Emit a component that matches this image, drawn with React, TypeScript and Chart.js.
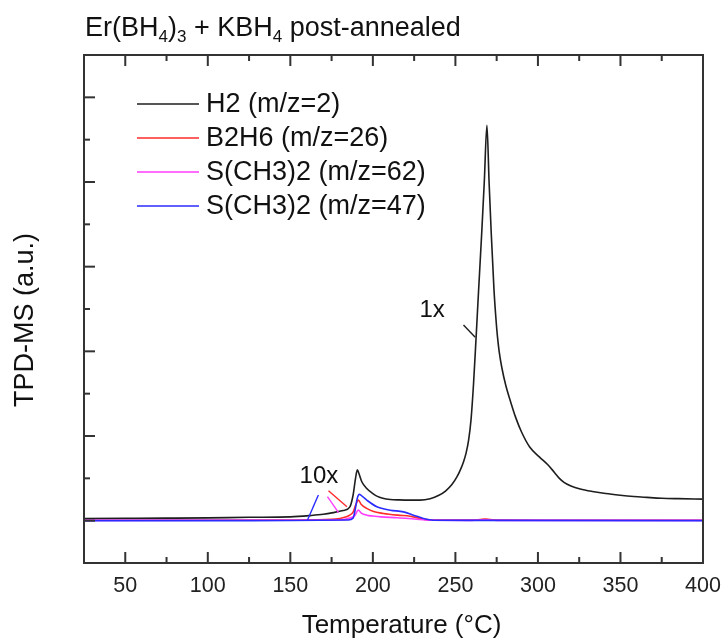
import React, { useEffect, useRef } from "react";
import { Chart, registerables } from "chart.js";

Chart.register(...registerables);

// ---------- data ----------
const xTickLabels = [50, 100, 150, 200, 250, 300, 350, 400];
const xMinorTicks = [75, 125, 175, 225, 275, 325, 375];
const yMajorTicks = [0, 1, 2, 3, 4, 5];
const yMinorTicks = [0.5, 1.5, 2.5, 3.5, 4.5];

const seriesNames = ["H2 (m/z=2)", "B2H6 (m/z=26)", "S(CH3)2 (m/z=62)", "S(CH3)2 (m/z=47)"];
const seriesColors = ["#1e1e1e", "#ff2b2b", "#ff3cff", "#2b2bff"];

const h2Temps = [25, 50, 75, 100, 125, 150, 162, 170, 176, 182, 186, 188, 189.5, 190.6, 191.5, 193.3, 196.3, 200, 202.4, 206, 210.5, 216, 222.6, 228.6, 234.7, 240, 244, 248, 251, 253, 255, 256.5, 258, 259.5, 261, 262.5, 264, 266, 267.5, 269.1, 270.4, 271.7, 273.4, 274.5, 275.5, 276.5, 278.2, 280.5, 283.2, 286.5, 290, 295, 301, 306, 310, 313, 316, 320, 325.6, 333, 341, 349.8, 358, 366, 375, 385, 400];
const h2Values = [0.026, 0.028, 0.03, 0.033, 0.04, 0.045, 0.06, 0.075, 0.095, 0.12, 0.16, 0.3, 0.5, 0.6, 0.56, 0.46, 0.38, 0.32, 0.29, 0.265, 0.25, 0.245, 0.243, 0.243, 0.26, 0.3, 0.35, 0.43, 0.52, 0.6, 0.7, 0.8, 0.95, 1.2, 1.62, 2.15, 2.7, 3.42, 4.0, 4.67, 4.0, 3.4, 2.72, 2.4, 2.17, 2.0, 1.8, 1.6, 1.42, 1.22, 1.05, 0.87, 0.75, 0.66, 0.57, 0.5, 0.45, 0.41, 0.375, 0.345, 0.32, 0.3, 0.285, 0.275, 0.265, 0.26, 0.255];

const b2h6Temps = [25, 100, 150, 175, 180, 184, 186, 188, 189.5, 191.2, 193, 196.3, 200, 206.4, 215, 222.6, 228, 232.7, 240, 260, 265, 268, 271, 276, 300, 400];
const b2h6Values = [0.005, 0.005, 0.008, 0.015, 0.026, 0.045, 0.065, 0.1, 0.18, 0.243, 0.19, 0.145, 0.11, 0.085, 0.065, 0.053, 0.03, 0.012, 0.006, 0.006, 0.014, 0.02, 0.014, 0.006, 0.005, 0.005];

const s62Temps = [25, 150, 180, 186, 189, 191.2, 193, 196.3, 200, 205, 215, 225, 235, 260, 268, 275, 400];
const s62Values = [0.003, 0.005, 0.01, 0.03, 0.06, 0.124, 0.09, 0.065, 0.055, 0.045, 0.035, 0.02, 0.005, 0.004, 0.01, 0.004, 0.003];

const s47Temps = [25, 100, 150, 185, 188, 189.2, 190.5, 191.8, 194, 196.3, 202.4, 210.5, 218.5, 224.6, 230.6, 236.7, 260, 400];
const s47Values = [0.0, 0.0, 0.002, 0.008, 0.03, 0.12, 0.26, 0.31, 0.28, 0.243, 0.164, 0.124, 0.104, 0.065, 0.026, 0.005, 0.003, 0.0];

// annotation labels and pointer lines, in data coordinates
const annotationTexts = ["1x", "10x"];
const annotationTextX = [235.9, 167.3];
const annotationTextY = [2.406, 0.442];
const pointerColors = ["#1e1e1e", "#2b2bff", "#ff2b2b", "#ff3cff"];
const pointerX1 = [254.9, 167.0, 173.1, 172.5];
const pointerY1 = [2.311, 0.3035, 0.354, 0.2835];
const pointerX2 = [262.0, 160.4, 184.3, 179.2];
const pointerY2 = [2.166, 0.008, 0.165, 0.0945];

const FONT = "'Liberation Sans', Arial, Helvetica, sans-serif";

const framePlugin = {
  id: "framePlugin",
  afterDraw(chart: any) {
    const ctx = chart.ctx;
    const { left, right, top, bottom } = chart.chartArea;
    const xs = chart.scales.x;
    const ys = chart.scales.y;
    ctx.save();
    // frame
    ctx.strokeStyle = "#333";
    ctx.lineWidth = 2;
    ctx.strokeRect(left, top, right - left, bottom - top);
    // x ticks (bottom & top, inward)
    const drawX = (v: number, len: number) => {
      const px = xs.getPixelForValue(v);
      ctx.beginPath();
      ctx.moveTo(px, bottom);
      ctx.lineTo(px, bottom - len);
      ctx.moveTo(px, top);
      ctx.lineTo(px, top + len);
      ctx.stroke();
    };
    xTickLabels.forEach((v) => drawX(v, 11));
    xMinorTicks.forEach((v) => drawX(v, 6));
    const drawY = (v: number, len: number) => {
      const py = ys.getPixelForValue(v);
      ctx.beginPath();
      ctx.moveTo(left, py);
      ctx.lineTo(left + len, py);
      ctx.stroke();
    };
    yMajorTicks.forEach((v) => drawY(v, 11));
    yMinorTicks.forEach((v) => drawY(v, 6));

    // pointer lines
    ctx.lineWidth = 1.4;
    for (let i = 0; i < pointerColors.length; i++) {
      ctx.strokeStyle = pointerColors[i];
      ctx.beginPath();
      ctx.moveTo(xs.getPixelForValue(pointerX1[i]), ys.getPixelForValue(pointerY1[i]));
      ctx.lineTo(xs.getPixelForValue(pointerX2[i]), ys.getPixelForValue(pointerY2[i]));
      ctx.stroke();
    }
    // annotation texts
    ctx.fillStyle = "#111";
    ctx.font = `24px ${FONT}`;
    ctx.textAlign = "center";
    ctx.textBaseline = "alphabetic";
    for (let i = 0; i < annotationTexts.length; i++) {
      ctx.fillText(annotationTexts[i], xs.getPixelForValue(annotationTextX[i]), ys.getPixelForValue(annotationTextY[i]));
    }

    // legend
    ctx.textAlign = "left";
    ctx.textBaseline = "middle";
    ctx.font = `27px ${FONT}`;
    const legX = left + 53;
    const legY = top + 49;
    for (let i = 0; i < seriesNames.length; i++) {
      const y = legY + i * 34;
      ctx.strokeStyle = seriesColors[i];
      ctx.lineWidth = 1.6;
      ctx.beginPath();
      ctx.moveTo(legX, y);
      ctx.lineTo(legX + 62, y);
      ctx.stroke();
      ctx.fillStyle = "#111";
      ctx.fillText(seriesNames[i], legX + 69, y + 1);
    }

    // chart title with subscripts
    const parts: [string, boolean][] = [
      ["Er(BH", false], ["4", true], [")", false], ["3", true],
      [" + KBH", false], ["4", true], [" post-annealed", false],
    ];
    let tx = left + 1;
    const tBase = 36;
    ctx.textBaseline = "alphabetic";
    for (const [s, sub] of parts) {
      ctx.font = sub ? `17px ${FONT}` : `27px ${FONT}`;
      ctx.fillText(s, tx, sub ? tBase + 6 : tBase);
      tx += ctx.measureText(s).width;
    }

    // axis titles
    ctx.font = `26px ${FONT}`;
    ctx.textAlign = "center";
    ctx.fillText("Temperature (°C)", (left + right) / 2 + 8, 633);
    ctx.font = `27px ${FONT}`;
    ctx.save();
    ctx.translate(33, (top + bottom) / 2 + 11);
    ctx.rotate(-Math.PI / 2);
    ctx.fillText("TPD-MS (a.u.)", 0, 0);
    ctx.restore();

    ctx.restore();
  },
};

function makeSeries(temps: number[], values: number[]) {
  return temps.map((t, i) => ({ x: t, y: values[i] }));
}

export default function App() {
  const ref = useRef<HTMLCanvasElement | null>(null);
  useEffect(() => {
    if (!ref.current) return;
    const allTemps = [h2Temps, b2h6Temps, s62Temps, s47Temps];
    const allValues = [h2Values, b2h6Values, s62Values, s47Values];
    const orders = [3, 2, 1, 0];
    const chart = new Chart(ref.current, {
      type: "line",
      data: {
        datasets: seriesNames.map((name, i) => ({
          label: name,
          data: makeSeries(allTemps[i], allValues[i]),
          borderColor: seriesColors[i],
          backgroundColor: seriesColors[i],
          borderWidth: 1.6,
          pointRadius: 0,
          fill: false,
          cubicInterpolationMode: "monotone" as const,
          order: orders[i],
        })),
      },
      options: {
        responsive: false,
        animation: false,
        devicePixelRatio: 1,
        layout: { padding: { left: 0, right: 22, top: 55, bottom: 0 } },
        plugins: {
          legend: { display: false },
          tooltip: { enabled: false },
          title: { display: false },
        },
        scales: {
          x: {
            type: "linear",
            min: 25,
            max: 400,
            afterBuildTicks: (s: any) => {
              s.ticks = xTickLabels.map((v) => ({ value: v }));
            },
            afterFit: (s: any) => {
              s.height = 81;
              s.paddingLeft = 0;
              s.paddingRight = 0;
            },
            grid: { display: false, drawTicks: false },
            border: { display: false },
            ticks: {
              padding: 10,
              color: "#222",
              font: { family: FONT, size: 21.5 },
              maxRotation: 0,
              autoSkip: false,
              callback: (v: any) => String(v),
            },
          },
          y: {
            type: "linear",
            min: -0.5,
            max: 5.5,
            afterFit: (s: any) => {
              s.width = 84;
              s.paddingTop = 0;
              s.paddingBottom = 0;
            },
            grid: { display: false, drawTicks: false },
            border: { display: false },
            ticks: { display: false },
          },
        },
      },
      plugins: [framePlugin],
    });
    return () => chart.destroy();
  }, []);
  return (
    <div style={{ position: "absolute", left: 0, top: 0, width: 725, height: 644, background: "#fff" }}>
      <canvas ref={ref} width={725} height={644} style={{ display: "block" }} />
    </div>
  );
}
